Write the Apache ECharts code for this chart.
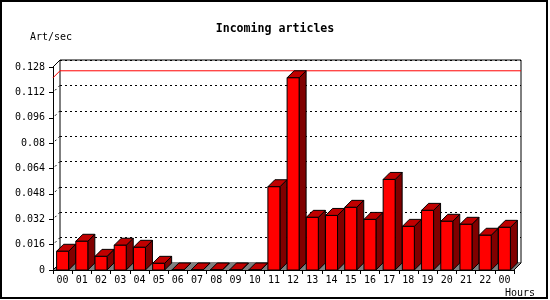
<!DOCTYPE html>
<html><head><meta charset="utf-8">
<script src="https://cdn.jsdelivr.net/npm/echarts@6/dist/echarts.min.js"></script>
<style>html,body{margin:0;padding:0;background:#fff}#c{width:550px;height:300px}</style>
</head><body><div id="c"></div>
<script>
var categories = ['00','01','02','03','04','05','06','07','08','09','10','11','12','13','14','15','16','17','18','19','20','21','22','00'];
var values = [0.0118,0.0181,0.0086,0.0156,0.0143,0.0042,0,0,0,0,0,0.0525,0.1212,0.0332,0.0344,0.0395,0.0319,0.0571,0.0275,0.0376,0.0307,0.0288,0.0219,0.0269];
var yTicks = [0,0.016,0.032,0.048,0.064,0.08,0.096,0.112,0.128];
var title = 'Incoming articles';
var yName = 'Art/sec';
var xName = 'Hours';

var FONT = 'DejaVu Sans Mono';
var D = 7;
var maxVal = Math.max.apply(null, values);
var chart = echarts.init(document.getElementById('c'), null, {renderer:'canvas'});

function fmt(v){ return v === 0 ? '0' : String(+v.toFixed(3)); }

var option = {
  backgroundColor:'#fff',
  animation:false,
  title:{text:title,left:'center',top:18,textStyle:{fontFamily:FONT,fontSize:11.6,fontWeight:'bold',color:'#000'}},
  graphic:[
    {type:'rect',shape:{x:1,y:1,width:546,height:297},style:{fill:'none',stroke:'#000',lineWidth:2},z:100},
    {type:'text',left:30,top:32,style:{text:yName,font:'10px "DejaVu Sans Mono"',fill:'#000'}},
    {type:'text',left:505,top:288,style:{text:xName,font:'10px "DejaVu Sans Mono"',fill:'#000'}}
  ],
  grid:[
    {left:53,top:67,width:461,height:203,show:false},
    {left:60,top:60,width:461,height:203,show:true,borderColor:'#000',borderWidth:1,backgroundColor:'#fff'}
  ],
  xAxis:[
    {type:'category',gridIndex:0,data:categories,boundaryGap:true,
     axisLine:{lineStyle:{color:'#000',width:1}},
     axisTick:{show:true,length:4,lineStyle:{color:'#000'}},
     axisLabel:{interval:0,margin:5,fontFamily:FONT,fontSize:10,color:'#000'}},
    {type:'category',gridIndex:1,data:categories,show:false}
  ],
  yAxis:[
    {type:'value',gridIndex:0,min:0,max:0.128,interval:0.016,
     axisLine:{show:true,lineStyle:{color:'#000',width:1}},
     axisTick:{show:true,length:4,lineStyle:{color:'#000'}},
     splitLine:{show:false},
     axisLabel:{margin:8,fontFamily:FONT,fontSize:10,color:'#000',formatter:fmt}},
    {type:'value',gridIndex:1,min:0,max:0.128,interval:0.016,
     axisLine:{show:false},axisTick:{show:false},axisLabel:{show:false},
     splitLine:{show:true,lineStyle:{color:'#000',type:[2,3],width:1}}}
  ],
  series:[
    {type:'custom',xAxisIndex:0,yAxisIndex:0,z:1,data:[[0]],
     renderItem:function(params,api){
       var cs = params.coordSys;
       var L = cs.x, R = cs.x+cs.width, B = cs.y+cs.height, T = cs.y;
       var yMax = api.coord([0,maxVal])[1];
       var ch = [];
       ch.push({type:'polygon',shape:{points:[[L,B],[R,B],[R+D,B-D],[L+D,B-D]]},style:{fill:'#808080',stroke:null}});
       ch.push({type:'line',shape:{x1:L,y1:T,x2:L+D,y2:T-D},style:{stroke:'#000',lineWidth:1}});
       ch.push({type:'line',shape:{x1:R,y1:B,x2:R+D,y2:B-D},style:{stroke:'#000',lineWidth:1}});
       ch.push({type:'line',shape:{x1:L,y1:B,x2:L+D,y2:B-D},style:{stroke:'#000',lineWidth:1}});
       for (var k=1;k<yTicks.length-1;k++){
         var yy = api.coord([0,yTicks[k]])[1];
         ch.push({type:'line',shape:{x1:L+2,y1:yy-2,x2:L+D,y2:yy-D},style:{stroke:'#000',lineWidth:1,lineDash:[2,3]}});
       }
       ch.push({type:'line',shape:{x1:L,y1:yMax,x2:L+D,y2:yMax-D},style:{stroke:'#ff0000',lineWidth:1}});
       ch.push({type:'line',shape:{x1:L+D,y1:yMax-D,x2:R+D,y2:yMax-D},style:{stroke:'#ff0000',lineWidth:1}});
       return {type:'group',children:ch};
     }},
    {type:'custom',xAxisIndex:0,yAxisIndex:0,z:3,
     data:values.map(function(v,i){return [i,v];}),
     encode:{x:0,y:1},
     renderItem:function(params,api){
       var i = api.value(0), v = api.value(1);
       var top = api.coord([i,v]), bot = api.coord([i,0]);
       var cw = api.size([1,0])[0];
       var bw = cw*0.625;
       var x0 = top[0]-bw/2, x1 = x0+bw, yT = top[1], yB = bot[1];
       var st = {stroke:'#000',lineWidth:1};
       return {type:'group',children:[
         {type:'polygon',shape:{points:[[x1,yT],[x1+D,yT-D],[x1+D,yB-D],[x1,yB]]},style:Object.assign({fill:'#800000'},st)},
         {type:'polygon',shape:{points:[[x0,yT],[x0+D,yT-D],[x1+D,yT-D],[x1,yT]]},style:Object.assign({fill:'#c00000'},st)},
         {type:'rect',shape:{x:x0,y:yT,width:bw,height:yB-yT},style:Object.assign({fill:'#ff0000'},st)}
       ]};
     }}
  ]
};
chart.setOption(option);
</script></body></html>
